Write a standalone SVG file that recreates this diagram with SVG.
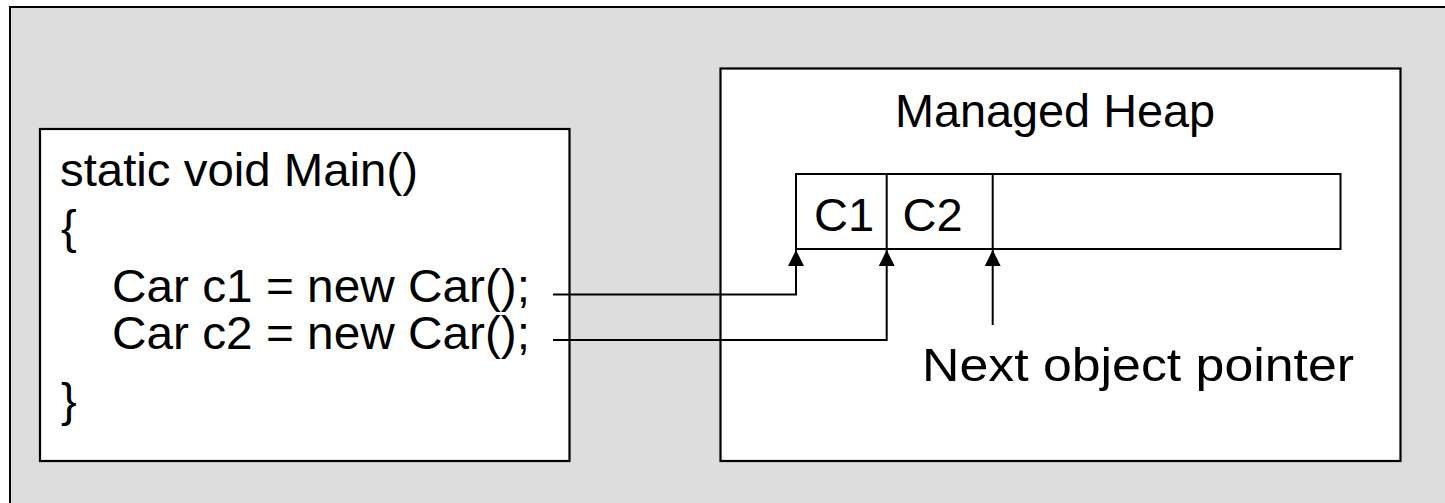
<svg xmlns="http://www.w3.org/2000/svg" width="1445" height="503" viewBox="0 0 1445 503">
  <defs>
    <style>
      .box { fill: #FFFFFF; stroke: #000000; stroke-width: 2.2; }
      .cell { fill: none; stroke: #000000; stroke-width: 2; }
      .conn { fill: none; stroke: #000000; stroke-width: 2; }
      .txt { font-family: "Liberation Sans", Arial, sans-serif; font-size: 47px; fill: #000000; }
    </style>
    <marker id="arrow" viewBox="0 0 16 16" refX="16" refY="8" markerWidth="16" markerHeight="16" markerUnits="userSpaceOnUse" orient="auto">
      <path d="M0,0 L16,8 L0,16 Z" fill="#000000"/>
    </marker>
  </defs>

  <rect id="background" x="10" y="7" width="1460" height="520" fill="#DDDDDD" stroke="#000000" stroke-width="2"/>

  <g id="code">
    <rect class="box" x="40" y="129" width="529.5" height="332"/>
    <text class="txt" x="60" y="185.5" textLength="358" lengthAdjust="spacingAndGlyphs">static void Main()</text>
    <text class="txt" x="61" y="243">{</text>
    <text class="txt" x="112" y="302" textLength="418" lengthAdjust="spacingAndGlyphs">Car c1 = new Car();</text>
    <text class="txt" x="112" y="349" textLength="418" lengthAdjust="spacingAndGlyphs">Car c2 = new Car();</text>
    <text class="txt" x="61" y="416">}</text>
  </g>

  <g id="heap">
    <rect class="box" x="720.5" y="68.5" width="680" height="392.5"/>
    <text class="txt" x="895" y="126.5" textLength="320" lengthAdjust="spacingAndGlyphs">Managed Heap</text>
  </g>

  <g id="memory">
    <rect class="cell" x="796" y="174" width="544.5" height="75"/>
    <line class="cell" x1="886.7" y1="174" x2="886.7" y2="249"/>
    <line class="cell" x1="992.7" y1="174" x2="992.7" y2="249"/>
    <text class="txt" x="814" y="230.5">C1</text>
    <text class="txt" x="902.5" y="230.5">C2</text>
  </g>

  <g id="pointer-label">
    <text class="txt" x="922" y="381" textLength="432" lengthAdjust="spacingAndGlyphs">Next object pointer</text>
  </g>

  <g id="connectors">
    <path class="conn" d="M553,294.5 H796 V250" marker-end="url(#arrow)"/>
    <path class="conn" d="M553,340 H886.7 V250" marker-end="url(#arrow)"/>
    <path class="conn" d="M992.7,325 V250" marker-end="url(#arrow)"/>
  </g>
</svg>
